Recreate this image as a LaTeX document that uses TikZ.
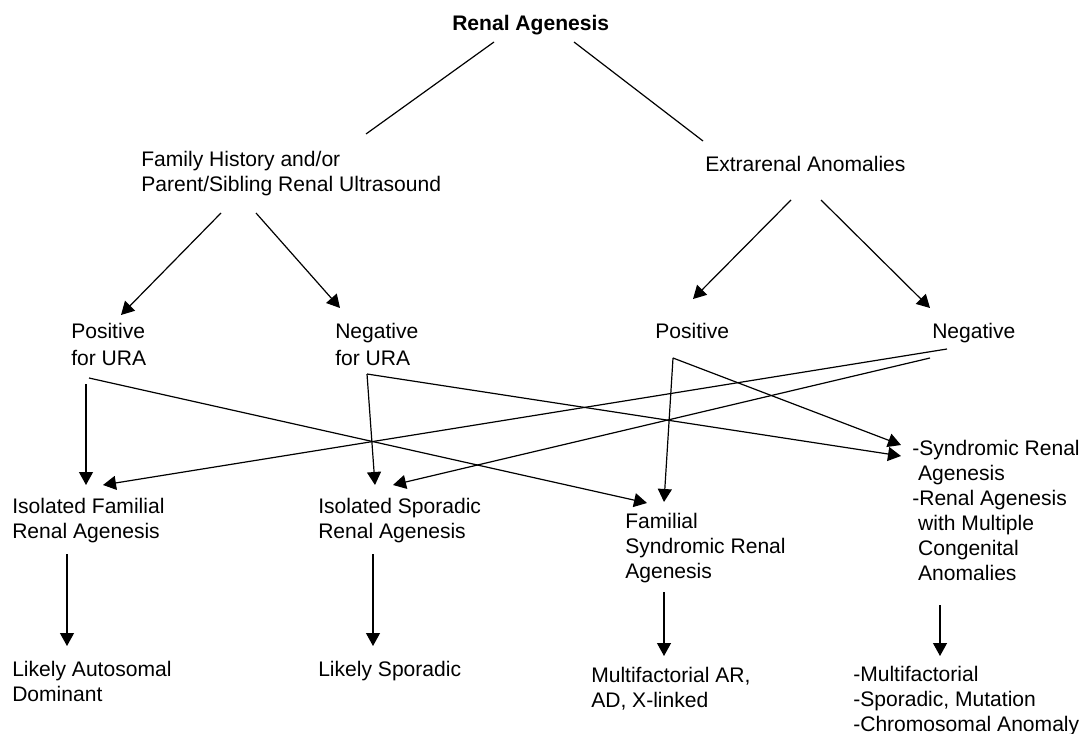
\documentclass[tikz,border=0pt]{standalone}
\usepackage{fontspec}
\setmainfont{Liberation Sans}
\usetikzlibrary{arrows.meta}
\begin{document}
\begin{tikzpicture}[x=0.75pt,y=-0.75pt,
  lbl/.style={anchor=base west,inner sep=0pt,align=left,font=\fontsize{15.8}{18.75}\selectfont},
  lbltall/.style={lbl,font=\fontsize{15.8}{20.6}\selectfont},
  ln/.style={line width=0.9pt,draw=black},
  arr/.style={ln,-{Triangle[length=9.75pt,width=10.5pt]}}]
\useasboundingbox (0,0) rectangle (1084,734);

% ---- text nodes (positions are the baseline of the LAST line) ----
\node[lbl,font=\fontsize{15.8}{18.75}\selectfont\bfseries] (top) at (452,30.5) {Renal Agenesis};
\node[lbl] (fam) at (141,192) {Family History and/or\\Parent/Sibling Renal Ultrasound};
\node[lbl] (ext) at (705,172) {Extrarenal Anomalies};
\node[lbltall] (posura) at (71,365.5) {Positive\\for URA};
\node[lbltall] (negura) at (335,365.5) {Negative\\for URA};
\node[lbl] (pos) at (655,338) {Positive};
\node[lbl] (neg) at (932,338) {Negative};
\node[lbl] (isofam) at (12,538) {Isolated Familial\\Renal Agenesis};
\node[lbl] (isospo) at (318,538) {Isolated Sporadic\\Renal Agenesis};
\node[lbl] (famsyn) at (625,578) {Familial\\Syndromic Renal\\Agenesis};
\node[lbl] (syn) at (912,580) {-Syndromic Renal\\\hspace*{0.28em}Agenesis\\-Renal Agenesis\\\hspace*{0.28em}with Multiple\\\hspace*{0.28em}Congenital\\\hspace*{0.28em}Anomalies};
\node[lbl] (likad) at (12,701) {Likely Autosomal\\Dominant};
\node[lbl] (liksp) at (318,676) {Likely Sporadic};
\node[lbl] (multi) at (591,707) {Multifactorial AR,\\AD, X-linked};
\node[lbl] (multb) at (853,731) {-Multifactorial\\-Sporadic, Mutation\\-Chromosomal Anomaly};

% ---- connector end points ----
\coordinate (top-l) at (494,42);
\coordinate (top-r) at (574,42);
\coordinate (fam-in) at (366,134);
\coordinate (ext-in) at (703,141);
\coordinate (fam-o1) at (221,213);
\coordinate (fam-o2) at (256,213);
\coordinate (posura-in) at (121,315);
\coordinate (negura-in) at (340,308);
\coordinate (ext-o1) at (791,200);
\coordinate (ext-o2) at (821,200);
\coordinate (pos-in) at (693,299);
\coordinate (neg-in) at (930,308);
\coordinate (posura-o1) at (86,384);
\coordinate (posura-o2) at (89,378);
\coordinate (negura-o) at (367,374);
\coordinate (pos-o) at (673,358);
\coordinate (neg-o1) at (947,349);
\coordinate (neg-o2) at (930,358);
\coordinate (isofam-in1) at (86,485);
\coordinate (isofam-in2) at (103,485);
\coordinate (isospo-in1) at (375,485);
\coordinate (isospo-in2) at (393,485);
\coordinate (famsyn-in1) at (647,503);
\coordinate (famsyn-in2) at (664,502);
\coordinate (syn-in1) at (901,445);
\coordinate (syn-in2) at (901,456);
\coordinate (isofam-o) at (67,554);
\coordinate (isospo-o) at (373,554);
\coordinate (famsyn-o) at (664,592);
\coordinate (syn-o) at (940,605);
\coordinate (likad-in) at (67,646);
\coordinate (liksp-in) at (373,646);
\coordinate (multi-in) at (664,656);
\coordinate (multb-in) at (940,656);

% ---- connectors ----
\draw[ln] (top-l) -- (fam-in);
\draw[ln] (top-r) -- (ext-in);
\draw[arr] (fam-o1) -- (posura-in);
\draw[arr] (fam-o2) -- (negura-in);
\draw[arr] (ext-o1) -- (pos-in);
\draw[arr] (ext-o2) -- (neg-in);
\draw[arr] (posura-o1) -- (isofam-in1);
\draw[arr] (posura-o2) -- (famsyn-in1);
\draw[arr] (negura-o) -- (isospo-in1);
\draw[arr] (negura-o) -- (syn-in2);
\draw[arr] (pos-o) -- (famsyn-in2);
\draw[arr] (pos-o) -- (syn-in1);
\draw[arr] (neg-o1) -- (isofam-in2);
\draw[arr] (neg-o2) -- (isospo-in2);
\draw[arr] (isofam-o) -- (likad-in);
\draw[arr] (isospo-o) -- (liksp-in);
\draw[arr] (famsyn-o) -- (multi-in);
\draw[arr] (syn-o) -- (multb-in);
\end{tikzpicture}
\end{document}
